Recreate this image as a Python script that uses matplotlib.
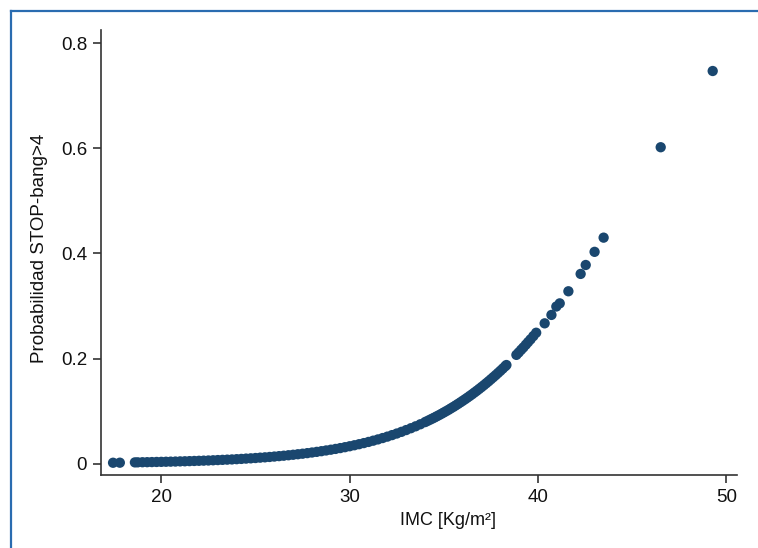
import numpy as np
import matplotlib
matplotlib.use('Agg')
import matplotlib.pyplot as plt
from matplotlib.lines import Line2D

# IMC (kg/m2) y probabilidad predicha de STOP-bang > 4
imc = [17.44, 17.8,
       18.6, 18.75, 19.0, 19.25, 19.5, 19.75, 20.0, 20.25, 20.5, 20.75,
       21.0, 21.25, 21.5, 21.75, 22.0, 22.25, 22.5, 22.75, 23.0, 23.25,
       23.5, 23.75, 24.0, 24.25, 24.5, 24.75, 25.0, 25.25, 25.5, 25.75,
       26.0, 26.25, 26.5, 26.75, 27.0, 27.25, 27.5, 27.75, 28.0, 28.25,
       28.5, 28.75, 29.0, 29.25, 29.5, 29.75, 30.0, 30.25, 30.5, 30.75,
       31.0, 31.25, 31.5, 31.75, 32.0, 32.25, 32.5, 32.75, 33.0, 33.25,
       33.5, 33.75, 34.0, 34.125, 34.25, 34.375, 34.5, 34.625, 34.75, 34.875,
       35.0, 35.125, 35.25, 35.375, 35.5, 35.625, 35.75, 35.875,
       36.0, 36.125, 36.25, 36.375, 36.5, 36.625, 36.75, 36.875,
       37.0, 37.125, 37.25, 37.375, 37.5, 37.625, 37.75, 37.875,
       38.0, 38.125, 38.25, 38.32,
       38.85, 38.97, 39.1, 39.22, 39.35, 39.47, 39.6, 39.75, 39.9,
       40.35, 40.71, 40.97, 41.15, 41.61, 42.26, 42.53, 43.0, 43.48,
       46.51, 49.27]

prob = [0.0018, 0.0019,
        0.0025, 0.0026, 0.0028, 0.0029, 0.0031, 0.0033, 0.0035, 0.0037, 0.0039, 0.0041,
        0.0044, 0.0046, 0.0049, 0.0052, 0.0055, 0.0058, 0.0061, 0.0065, 0.0069, 0.0073,
        0.0077, 0.0081, 0.0086, 0.0091, 0.0097, 0.0102, 0.0108, 0.0115, 0.0121, 0.0128,
        0.0136, 0.0144, 0.0152, 0.0161, 0.0170, 0.0180, 0.0190, 0.0201, 0.0213, 0.0225,
        0.0238, 0.0252, 0.0266, 0.0281, 0.0297, 0.0314, 0.0332, 0.0351, 0.0371, 0.0392,
        0.0414, 0.0438, 0.0462, 0.0488, 0.0515, 0.0544, 0.0574, 0.0606, 0.0640, 0.0675,
        0.0711, 0.0750, 0.0791, 0.0812, 0.0834, 0.0856, 0.0878, 0.0902, 0.0925, 0.0950,
        0.0975, 0.1000, 0.1026, 0.1053, 0.1080, 0.1108, 0.1137, 0.1166,
        0.1196, 0.1226, 0.1257, 0.1289, 0.1321, 0.1355, 0.1388, 0.1423,
        0.1458, 0.1494, 0.1531, 0.1568, 0.1607, 0.1646, 0.1685, 0.1726,
        0.1767, 0.1809, 0.1852, 0.1877,
        0.2070, 0.2115, 0.2166, 0.2211, 0.2264, 0.2313, 0.2365, 0.2428, 0.2491,
        0.267, 0.283, 0.299, 0.305, 0.328, 0.361, 0.378, 0.403, 0.430,
        0.602, 0.747]

x_ticks = [20, 30, 40, 50]
y_ticks = [0, 0.2, 0.4, 0.6, 0.8]
y_ticklabels = ['0', '0.2', '0.4', '0.6', '0.8']

plt.rcParams['font.family'] = ['Liberation Sans', 'DejaVu Sans']

fig = plt.figure(figsize=(7.58, 5.48), dpi=100)
ax = fig.add_axes([101/758, 1 - 475/548, 636/758, 445/548])

ax.scatter(imc, prob, s=55, color='#1a476f', edgecolors='none', zorder=3)

ax.set_xlim(16.8, 50.56)
ax.set_ylim(-0.0215, 0.825)
ax.set_xticks(x_ticks)
ax.set_yticks(y_ticks)
ax.set_yticklabels(y_ticklabels)

for s in ['top', 'right']:
    ax.spines[s].set_visible(False)
for s in ['left', 'bottom']:
    ax.spines[s].set_color('#333333')
    ax.spines[s].set_linewidth(1.2)

ax.tick_params(axis='both', direction='out', length=6, width=1.2, color='#333333',
               labelsize=13.5, labelcolor='#111111', pad=4)

ax.set_xlabel('IMC [Kg/m²]', fontsize=13, color='#111111')
ax.xaxis.set_label_coords((448 - 101) / 636, -(512 - 475) / 445)
ax.set_ylabel('Probabilidad STOP-bang>4', fontsize=13.5, color='#111111')
ax.yaxis.set_label_coords(-(101 - 48) / 636, (475 - 248) / 445)

# marco azul exterior (solo se ven el borde izquierdo y el superior)
fx = 11 / 758
fy = 1 - 11 / 548
fig.add_artist(Line2D([fx, fx], [0, fy], transform=fig.transFigure, color='#2a6cb0', lw=1.6))
fig.add_artist(Line2D([fx, 1], [fy, fy], transform=fig.transFigure, color='#2a6cb0', lw=1.6))

fig.savefig('out.png', dpi=100)
